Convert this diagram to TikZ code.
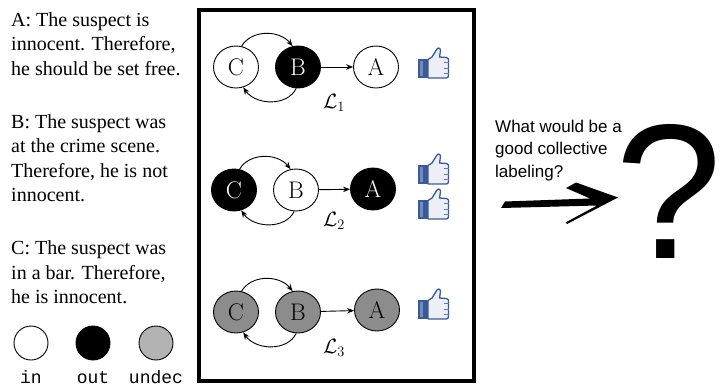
\documentclass[tikz,border=0pt]{standalone}
\usepackage{fontspec}
\usetikzlibrary{arrows.meta,shapes.geometric,bending}
\newfontfamily\tnrfont{Liberation Serif}
\newfontfamily\arialfont{Liberation Sans}
\newfontfamily\monofont{Liberation Mono}
\definecolor{fbblue}{RGB}{59,89,152}
\definecolor{handfill}{RGB}{236,239,246}
\definecolor{undecgray}{RGB}{140,140,140}
\definecolor{legendgray}{RGB}{179,179,179}
\tikzset{
  arg/.style={ellipse, draw, line width=0.9, minimum width=45, minimum height=42, inner sep=0,
    font=\fontsize{24}{24}\selectfont},
  inarg/.style={arg, fill=white},
  outarg/.style={arg, fill=black, text=white},
  undarg/.style={arg, fill=undecgray},
  edge/.style={line width=0.9, -{Stealth[length=7,width=5.5,bend]}},
  lab/.style={font=\fontsize{22}{22}\selectfont, inner sep=0},
  txt/.style={anchor=base west, inner sep=0, font=\tnrfont\fontsize{20}{24}\selectfont},
  rtxt/.style={anchor=base west, inner sep=0, font=\arialfont\fontsize{17}{20}\selectfont},
  legcirc/.style={circle, draw, line width=0.9, minimum size=34, inner sep=0},
  legtxt/.style={anchor=base, inner sep=0, font=\monofont\fontsize{18}{18}\selectfont},
  thumb/.pic={
    \fill[fbblue] (0,12) rectangle (10,31);
    \fill[fbblue!70!white] (2,14) rectangle (5,29);
    \draw[fbblue, line width=1.3, fill=handfill, line join=round]
      (10,12.5) -- (14,10) -- (18,3.5) .. controls (19,0.5) and (22.5,0) .. (22.5,3.5)
      -- (21.5,10) -- (28.5,10.5) .. controls (30.5,10.8) and (31,12.5) .. (30.5,14.5)
      -- (30.5,28.5) .. controls (30.5,30.5) and (29.5,31) .. (28,31) -- (10,31) -- cycle;
    \draw[fbblue!80!white, line width=0.8] (26,15.5) -- (30.5,15.5) (26,21) -- (30.5,21) (26,26) -- (30.5,26);
  }
}
\begin{document}
\begin{tikzpicture}[x=1pt, y=-1pt]
\useasboundingbox (0,0) rectangle (722,389);
% left texts
\node[txt] (a1) at (11,26) {A: The suspect is};
\node[txt] (a2) at (11,50.5) {innocent. Therefore,};
\node[txt] (a3) at (11,75) {he should be set free.};
\node[txt] (b1) at (11,128) {B: The suspect was};
\node[txt] (b2) at (11,152.5) {at the crime scene.};
\node[txt] (b3) at (11,177) {Therefore, he is not};
\node[txt] (b4) at (11,201.5) {innocent.};
\node[txt] (c1) at (11,254.5) {C: The suspect was};
\node[txt] (c2) at (11,279) {in a bar. Therefore,};
\node[txt] (c3) at (11,303.5) {he is innocent.};
% legend
\node[legcirc, fill=white] (lin) at (31,343) {};
\node[legcirc, fill=black] (lout) at (93,343) {};
\node[legcirc, fill=legendgray] (lund) at (156,343) {};
\node[legtxt] (tin) at (31,383) {in};
\node[legtxt] (tout) at (93,383) {out};
\node[legtxt] (tund) at (156,383) {undec};
% frame
\draw[line width=4] (199,9.5) rectangle (473.5,381);
% row 1
\node[inarg] (C1) at (236,67) {C};
\node[outarg] (B1) at (298,67) {B};
\node[inarg] (A1) at (376,67) {A};
\draw[edge] (C1.75) to[out=60,in=120] (B1.105);
\draw[edge] (B1.265) to[out=-115,in=-65] (C1.290);
\draw[edge] (B1) -- (A1);
\node[lab] (L1) at (334,103) {$\mathcal{L}_1$};
\pic at (418,47) {thumb};
% row 2
\node[outarg] (C2) at (234,190) {C};
\node[inarg] (B2) at (296,190) {B};
\node[outarg] (A2) at (373,189) {A};
\draw[edge] (C2.75) to[out=60,in=120] (B2.105);
\draw[edge] (B2.265) to[out=-115,in=-65] (C2.290);
\draw[edge] (B2) -- (A2);
\node[lab] (L2) at (334,221) {$\mathcal{L}_2$};
\pic at (418,153) {thumb};
\pic at (418,188) {thumb};
% row 3
\node[undarg] (C3) at (236,312) {C};
\node[undarg] (B3) at (298,312) {B};
\node[undarg] (A3) at (377,310) {A};
\draw[edge] (C3.75) to[out=60,in=120] (B3.105);
\draw[edge] (B3.265) to[out=-115,in=-65] (C3.290);
\draw[edge] (B3) -- (A3);
\node[lab] (L3) at (334,348) {$\mathcal{L}_3$};
\pic at (418,288) {thumb};
% right side
\node[rtxt] (q1) at (495,132) {What would be a};
\node[rtxt] (q2) at (495,154.5) {good collective};
\node[rtxt] (q3) at (495,177) {labeling?};
\fill[black] (501,208) -- (505,201.5) -- (590,198.5) -- (566,188) -- (576,182.5) -- (618,197.5)
  -- (567,224) -- (565.5,222.5) -- (597,205.5) -- (540,207) -- cycle;
\node[anchor=base west, inner sep=0, font=\arialfont\fontsize{192}{192}\selectfont] (qm) at (615,258) {?};
\end{tikzpicture}
\end{document}
